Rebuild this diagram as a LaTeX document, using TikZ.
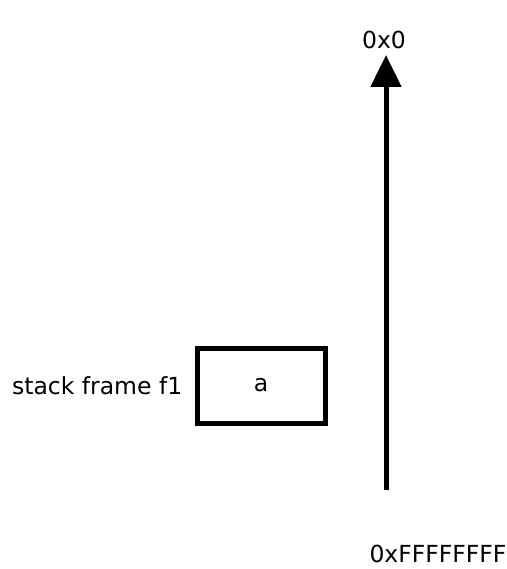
\documentclass[tikz,border=0pt]{standalone}
\usepackage{fontspec}
\setmainfont{DejaVu Sans}
\usetikzlibrary{arrows.meta,positioning}
\tikzset{
  lbl/.style={inner sep=0pt,font=\fontsize{23.5}{28}\selectfont},
  framebox/.style={draw,line width=5pt,minimum width=128pt,minimum height=75pt,inner sep=0pt}
}

\begin{document}
\begin{tikzpicture}[x=1pt,y=-1pt,>={Triangle[length=32pt,width=30pt]}]
  \useasboundingbox (0,0) rectangle (506,569);
  \node[lbl] (top) at (384,40) {0x0};
  \node[lbl] (bottom) at (438,554) {0xFFFFFFFF};
  \node[framebox,lbl] (f1) at (261,385.5) {a};
  \node[lbl,left=12pt of f1] (f1lbl) {stack frame f1};
  \coordinate (start) at (386,490);
  \coordinate (tip) at (386,55);
  \draw[->,line width=5pt] (start)--(tip);
\end{tikzpicture}
\end{document}
